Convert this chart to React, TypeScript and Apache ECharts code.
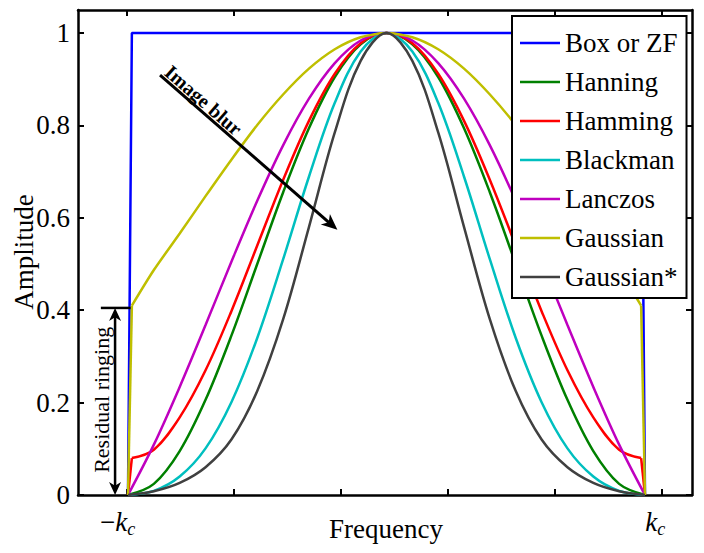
import React, { useEffect, useRef } from 'react';
import * as echarts from 'echarts';

const FONT = 'Liberation Serif, DejaVu Serif, serif';

const SERIES_NAMES = ['Box or ZF', 'Hanning', 'Hamming', 'Blackman', 'Lanczos', 'Gaussian', 'Gaussian*'];
const COLORS = ['#0000ff', '#008000', '#ff0000', '#00bfbf', '#bf00bf', '#bfbf00', '#404040'];

// frequency positions (k_c = 1)
const XS = [-1, -0.9, -0.8, -0.7, -0.6, -0.5, -0.4, -0.3, -0.2, -0.1, 0, 0.1, 0.2, 0.3, 0.4, 0.5, 0.6, 0.7, 0.8, 0.9, 1];
const XS_INNER = [-0.985, -0.9, -0.8, -0.7, -0.6, -0.5, -0.4, -0.3, -0.2, -0.1, 0, 0.1, 0.2, 0.3, 0.4, 0.5, 0.6, 0.7, 0.8, 0.9, 0.985];

const BOX_X = [-1.0, -0.985, 0.985, 1.0];
const BOX_Y = [0, 1, 1, 0];
const HANNING = [0, 0.024, 0.095, 0.206, 0.345, 0.5, 0.655, 0.794, 0.905, 0.976, 1, 0.976, 0.905, 0.794, 0.655, 0.5, 0.345, 0.206, 0.095, 0.024, 0];
const HAMMING = [0.08, 0.098, 0.168, 0.27, 0.398, 0.54, 0.682, 0.81, 0.912, 0.978, 1, 0.978, 0.912, 0.81, 0.682, 0.54, 0.398, 0.27, 0.168, 0.098, 0.08];
const BLACKMAN = [0, 0.009, 0.04, 0.101, 0.201, 0.34, 0.51, 0.689, 0.849, 0.96, 1, 0.96, 0.849, 0.689, 0.51, 0.34, 0.201, 0.101, 0.04, 0.009, 0];
const LANCZOS = [0, 0.109, 0.234, 0.368, 0.505, 0.637, 0.757, 0.858, 0.935, 0.984, 1, 0.984, 0.935, 0.858, 0.757, 0.637, 0.505, 0.368, 0.234, 0.109, 0];
const GAUSSIAN = [0.41, 0.487, 0.566, 0.647, 0.726, 0.801, 0.867, 0.923, 0.965, 0.991, 1, 0.991, 0.965, 0.923, 0.867, 0.801, 0.726, 0.647, 0.566, 0.487, 0.41];
const GAUSSIAN_STAR = [0, 0.008, 0.026, 0.06, 0.12, 0.225, 0.38, 0.58, 0.785, 0.94, 1, 0.94, 0.785, 0.58, 0.38, 0.225, 0.12, 0.06, 0.026, 0.008, 0];
const EDGE_FLOOR = 0;

const X_MIN = -1.1934;
const X_MAX = 1.1818;
const Y_MIN = 0;
const Y_MAX = 1.05;
const X_TICKS = [-1.004, -0.5905, -0.177, 0.2365, 0.65, 1.0635];
const X_LABEL_POS = [-1.04, 1.04];
const Y_TICKS = [0, 0.2, 0.4, 0.6, 0.8, 1];
const Y_TICK_LABELS = ['0', '0.2', '0.4', '0.6', '0.8', '1'];

// annotations (data coordinates)
const BLUR_ARROW = [[-0.876, 0.909], [-0.19, 0.574]];
const BLUR_TEXT = [-0.708, 0.855];
const RING_X = -1.05;
const RING_TOP = 0.405;
const RING_LINE_X = [-1.105, -0.99];
const RING_TEXT = [-1.104, 0.206];

const zip = (xs: number[], ys: number[]) => xs.map((x, i) => [x, ys[i]]);

const serif = (size: number, extra: any = {}) => ({
  fontFamily: FONT,
  fontSize: size,
  fontStyle: 'normal',
  fontWeight: 'normal',
  color: '#000',
  ...extra,
});

function lineSeries(name: string, color: string, data: number[][], smooth: number | boolean) {
  return {
    type: 'line',
    name,
    data,
    smooth,
    symbol: 'none',
    showSymbol: false,
    lineStyle: { color, width: 2.5 },
    itemStyle: { color },
    silent: true,
    emphasis: { disabled: true },
    xAxisIndex: 0,
    yAxisIndex: 0,
  };
}

function arrowHead(tip: number[], from: number[], L: number, W: number) {
  const dx = tip[0] - from[0];
  const dy = tip[1] - from[1];
  const len = Math.hypot(dx, dy);
  const ux = dx / len;
  const uy = dy / len;
  const nx = -uy;
  const ny = ux;
  return [
    [tip[0], tip[1]],
    [tip[0] - L * ux + W * nx, tip[1] - L * uy + W * ny],
    [tip[0] - 0.72 * L * ux, tip[1] - 0.72 * L * uy],
    [tip[0] - L * ux - W * nx, tip[1] - L * uy - W * ny],
  ];
}

export default function App() {
  const ref = useRef<HTMLDivElement>(null);

  useEffect(() => {
    if (!ref.current) return;
    const chart = echarts.init(ref.current, undefined, { renderer: 'svg' });

    const axisLine = { show: true, onZero: false, lineStyle: { color: '#000', width: 2.5 } };
    const tick = (vals: number[]) => ({
      show: true,
      inside: true,
      length: 6,
      customValues: vals,
      lineStyle: { color: '#000', width: 2 },
    });

    const series: any[] = [];
    series.push(lineSeries(SERIES_NAMES[0], COLORS[0], zip(BOX_X, BOX_Y), false));
    series.push(lineSeries(SERIES_NAMES[1], COLORS[1], zip(XS, HANNING), 0.35));
    const nIn = XS_INNER.length - 1;
    series.push(lineSeries(SERIES_NAMES[2], COLORS[2], zip(XS_INNER, HAMMING), 0.35));
    series.push(lineSeries(SERIES_NAMES[2], COLORS[2], [[XS[0], EDGE_FLOOR], [XS_INNER[0], HAMMING[0]]], false));
    series.push(lineSeries(SERIES_NAMES[2], COLORS[2], [[XS_INNER[nIn], HAMMING[nIn]], [XS[XS.length - 1], EDGE_FLOOR]], false));
    series.push(lineSeries(SERIES_NAMES[3], COLORS[3], zip(XS, BLACKMAN), 0.35));
    series.push(lineSeries(SERIES_NAMES[4], COLORS[4], zip(XS, LANCZOS), 0.35));
    series.push(lineSeries(SERIES_NAMES[5], COLORS[5], zip(XS_INNER, GAUSSIAN), 0.25));
    series.push(lineSeries(SERIES_NAMES[5], COLORS[5], [[XS[0], EDGE_FLOOR], [XS_INNER[0], GAUSSIAN[0]]], false));
    series.push(lineSeries(SERIES_NAMES[5], COLORS[5], [[XS_INNER[nIn], GAUSSIAN[nIn]], [XS[XS.length - 1], EDGE_FLOOR]], false));
    series.push(lineSeries(SERIES_NAMES[6], COLORS[6], zip(XS, GAUSSIAN_STAR), 0.35));

    const option: any = {
      animation: false,
      backgroundColor: '#fff',
      textStyle: serif(12),
      grid: { left: 78, right: 12, top: 10, bottom: 58, containLabel: false, outerBoundsMode: 'none' },
      legend: {
        orient: 'vertical',
        left: 512,
        top: 16,
        icon: 'rect',
        itemWidth: 40,
        itemHeight: 2.5,
        itemGap: 9,
        padding: [12, 9, 6, 8],
        borderColor: '#000',
        borderWidth: 2,
        borderRadius: 0,
        backgroundColor: '#fff',
        selectedMode: false,
        data: SERIES_NAMES,
        textStyle: serif(27, { lineHeight: 30 }),
      },
      xAxis: [
        {
          type: 'value',
          position: 'bottom',
          min: X_MIN,
          max: X_MAX,
          axisLine,
          axisTick: tick(X_TICKS),
          splitLine: { show: false },
          axisLabel: {
            customValues: X_LABEL_POS,
            margin: 11,
            ...serif(27),
            formatter: (v: number) => (v < 0 ? '{m|−}{k|k}{s|c}' : '{k|k}{s|c}'),
            rich: {
              m: serif(27, { lineHeight: 32 }),
              k: serif(27, { fontStyle: 'italic', lineHeight: 32 }),
              s: serif(18, { fontStyle: 'italic', lineHeight: 14, verticalAlign: 'bottom' }),
            },
          },
        },
        {
          type: 'value',
          position: 'top',
          min: X_MIN,
          max: X_MAX,
          axisLine,
          axisTick: tick(X_TICKS),
          splitLine: { show: false },
          axisLabel: { show: false },
        },
      ],
      yAxis: [
        {
          type: 'value',
          position: 'left',
          min: Y_MIN,
          max: Y_MAX,
          axisLine,
          axisTick: tick(Y_TICKS),
          splitLine: { show: false },
          axisLabel: {
            customValues: Y_TICKS,
            margin: 8,
            ...serif(27),
            formatter: (v: number) => {
              const i = Y_TICKS.findIndex((t) => Math.abs(t - v) < 1e-6);
              return i >= 0 ? Y_TICK_LABELS[i] : '';
            },
          },
        },
        {
          type: 'value',
          position: 'right',
          min: Y_MIN,
          max: Y_MAX,
          axisLine,
          axisTick: tick(Y_TICKS),
          splitLine: { show: false },
          axisLabel: { show: false },
        },
      ],
      series,
    };
    chart.setOption(option);

    const px = (v: number[]) => chart.convertToPixel({ gridIndex: 0 } as any, v) as number[];

    const bStart = px(BLUR_ARROW[0]);
    const bEnd = px(BLUR_ARROW[1]);
    const bAngle = Math.atan2(bEnd[1] - bStart[1], bEnd[0] - bStart[0]);
    const bLen = Math.hypot(bEnd[0] - bStart[0], bEnd[1] - bStart[1]);
    const bLineEnd = [bEnd[0] - (11 * (bEnd[0] - bStart[0])) / bLen, bEnd[1] - (11 * (bEnd[1] - bStart[1])) / bLen];
    const bText = px(BLUR_TEXT);

    const rTop = px([RING_X, RING_TOP]);
    const rBot = px([RING_X, 0]);
    const rL = px([RING_LINE_X[0], RING_TOP]);
    const rR = px([RING_LINE_X[1], RING_TOP]);
    const rText = px(RING_TEXT);

    const blk = { stroke: '#000', lineWidth: 2.5 };
    const textStyle = (text: string, size: number, weight = 'normal') => ({
      text,
      fontFamily: FONT,
      fontSize: size,
      fontWeight: weight,
      fill: '#000',
      align: 'center',
      verticalAlign: 'middle',
      textAlign: 'center',
      textVerticalAlign: 'middle',
    });

    chart.setOption({
      graphic: [
        { type: 'text', x: 24, y: 252, rotation: Math.PI / 2, style: textStyle('Amplitude', 27), z: 100 },
        { type: 'text', x: 386, y: 529, style: textStyle('Frequency', 27), z: 100 },
        // image blur arrow
        { type: 'line', shape: { x1: bStart[0], y1: bStart[1], x2: bLineEnd[0], y2: bLineEnd[1] }, style: { stroke: '#000', lineWidth: 3 }, z: 100 },
        { type: 'polygon', shape: { points: arrowHead(bEnd, bStart, 16, 7) }, style: { fill: '#000' }, z: 100 },
        { type: 'text', x: bText[0], y: bText[1], rotation: -bAngle, style: textStyle('Image blur', 20, 'bold'), z: 100 },
        // residual ringing
        { type: 'line', shape: { x1: rL[0], y1: rL[1], x2: rR[0], y2: rR[1] }, style: blk, z: 100 },
        { type: 'line', shape: { x1: rTop[0], y1: rTop[1] + 8, x2: rBot[0], y2: rBot[1] - 8 }, style: blk, z: 100 },
        { type: 'polygon', shape: { points: arrowHead(rTop, rBot, 13, 6) }, style: { fill: '#000' }, z: 100 },
        { type: 'polygon', shape: { points: arrowHead(rBot, rTop, 13, 6) }, style: { fill: '#000' }, z: 100 },
        { type: 'text', x: rText[0], y: rText[1], rotation: Math.PI / 2, style: textStyle('Residual ringing', 22), z: 100 },
      ],
    });

    return () => chart.dispose();
  }, []);

  return <div ref={ref} style={{ position: 'fixed', left: 0, top: 0, width: 704, height: 553 }} />;
}
